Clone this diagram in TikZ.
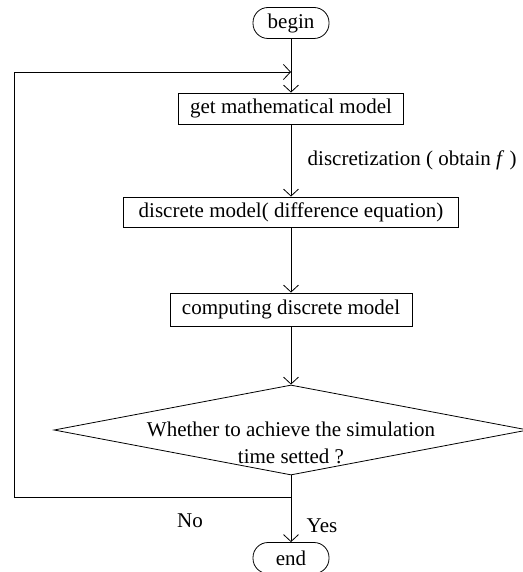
\documentclass[tikz,border=0pt]{standalone}
\usepackage{fontspec}
\setmainfont{Liberation Serif}
\usetikzlibrary{shapes.geometric,arrows.meta}

\begin{document}
\begin{tikzpicture}[x=1pt,y=-1pt,line width=0.8pt,
  font=\fontsize{21}{27}\selectfont,
  >={Straight Barb[length=7pt,width=15pt]},
  terminal/.style={shape=rectangle,rounded corners=15pt,draw,minimum width=76pt,minimum height=31pt,inner sep=0pt},
  process/.style={shape=rectangle,draw,minimum height=31pt,inner sep=0pt},
  decision/.style={shape=diamond,draw,minimum width=474pt,minimum height=90pt,inner sep=0pt}]
\useasboundingbox (0,0) rectangle (522,572);
%[nodes]
\path (291,23) node (start) [terminal] {begin};
\path (291,108.5) node (getmodel) [process,minimum width=225pt] {get mathematical model};
\path (291,212) node (discmodel) [process,minimum width=335pt,minimum height=30pt] {discrete model( difference equation)};
\path (291,309.5) node (compute) [process,minimum width=242pt,minimum height=33pt] {computing discrete model};
\path (291,430) node (decide) [decision,label={[align=center,yshift=-12.5pt]center:Whether to achieve the simulation\\time setted ?}] {};
\path (291,558) node (stop) [terminal] {end};
\coordinate (join) at (291,72);
\coordinate (fork) at (291,497);
\coordinate (loopbl) at (14,497);
\coordinate (looptl) at (14,72);
\path (190,521) node (nolabel) {No};
\path (322,526) node (yeslabel) {Yes};

\draw [->] (start) to (getmodel);
\draw [->] (getmodel) to node [anchor=west,xshift=13pt] {discretization ( obtain \textit{f} )} (discmodel);
\draw [->] (discmodel) to (compute);
\draw [->] (compute) to (decide);
\draw [->] (decide) to (stop);
\draw [->] (fork) -- (loopbl) -- (looptl) -- (join);
\end{tikzpicture}
\end{document}
